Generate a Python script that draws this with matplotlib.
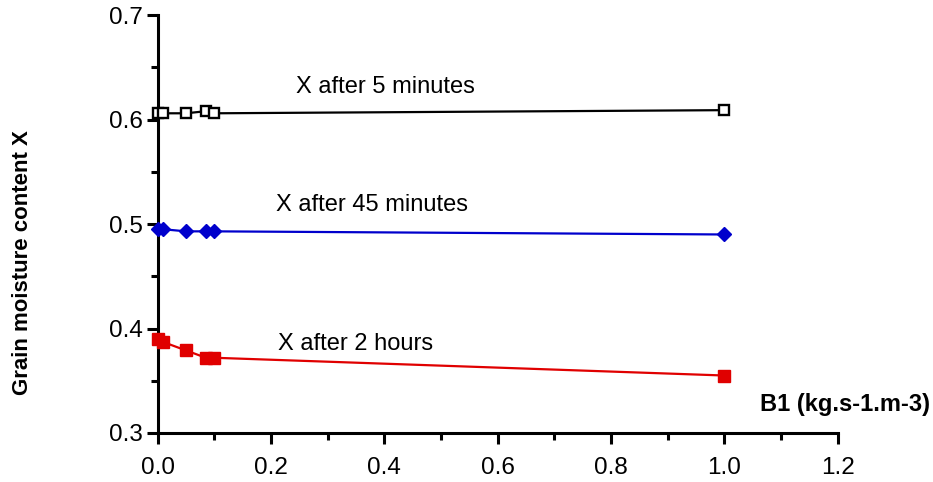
import numpy as np
import matplotlib
matplotlib.use("Agg")
import matplotlib.pyplot as plt
from matplotlib.ticker import MultipleLocator

plt.rcParams["font.family"] = ["Liberation Sans", "DejaVu Sans"]

b1 = [0.0, 0.01, 0.05, 0.085, 0.1, 1.0]
x_5min = [0.606, 0.606, 0.606, 0.608, 0.606, 0.609]
x_45min = [0.495, 0.495, 0.493, 0.493, 0.493, 0.490]
x_2h = [0.390, 0.387, 0.379, 0.372, 0.372, 0.355]

fig = plt.figure(figsize=(9.33, 4.82), dpi=100)
ax = fig.add_axes([0.169, 0.1017, 0.729, 0.867])

ax.plot(b1, x_5min, color="black", lw=1.6, marker="s", ms=7.5,
        mfc="white", mec="black", mew=1.7, clip_on=False, zorder=3)
ax.plot(b1, x_45min, color="#0000cc", lw=1.6, marker="D", ms=7.5,
        mfc="#0000cc", mec="#0000cc", clip_on=False, zorder=3)
ax.plot(b1, x_2h, color="#e00000", lw=1.6, marker="s", ms=8.5,
        mfc="#e00000", mec="#e00000", clip_on=False, zorder=3)

ax.set_xlim(0, 1.2)
ax.set_ylim(0.3, 0.7)
ax.xaxis.set_major_locator(MultipleLocator(0.2))
ax.xaxis.set_minor_locator(MultipleLocator(0.1))
ax.yaxis.set_major_locator(MultipleLocator(0.1))
ax.yaxis.set_minor_locator(MultipleLocator(0.05))
ax.xaxis.set_major_formatter(matplotlib.ticker.FormatStrFormatter("%.1f"))
ax.yaxis.set_major_formatter(matplotlib.ticker.FormatStrFormatter("%.1f"))

for s in ["top", "right"]:
    ax.spines[s].set_visible(False)
for s in ["left", "bottom"]:
    ax.spines[s].set_linewidth(2.2)

ax.tick_params(which="major", length=8, width=2.2, labelsize=17.5, direction="out")
ax.tick_params(which="minor", length=5, width=2.2, direction="out")
ax.tick_params(axis="x", pad=9)
ax.tick_params(axis="y", pad=3)

fig.text(0.024, 0.456, "Grain moisture content X", rotation=90, fontsize=16,
         fontweight="bold", ha="center", va="center")
fig.text(0.997, 0.16, "B1 (kg.s-1.m-3)", fontsize=17, fontweight="bold",
         ha="right", va="center")

ax.text(0.402, 0.631, "X after 5 minutes", fontsize=17, ha="center", va="center")
ax.text(0.378, 0.518, "X after 45 minutes", fontsize=17, ha="center", va="center")
ax.text(0.349, 0.385, "X after 2 hours", fontsize=17, ha="center", va="center")

fig.savefig("out.png", dpi=100)
